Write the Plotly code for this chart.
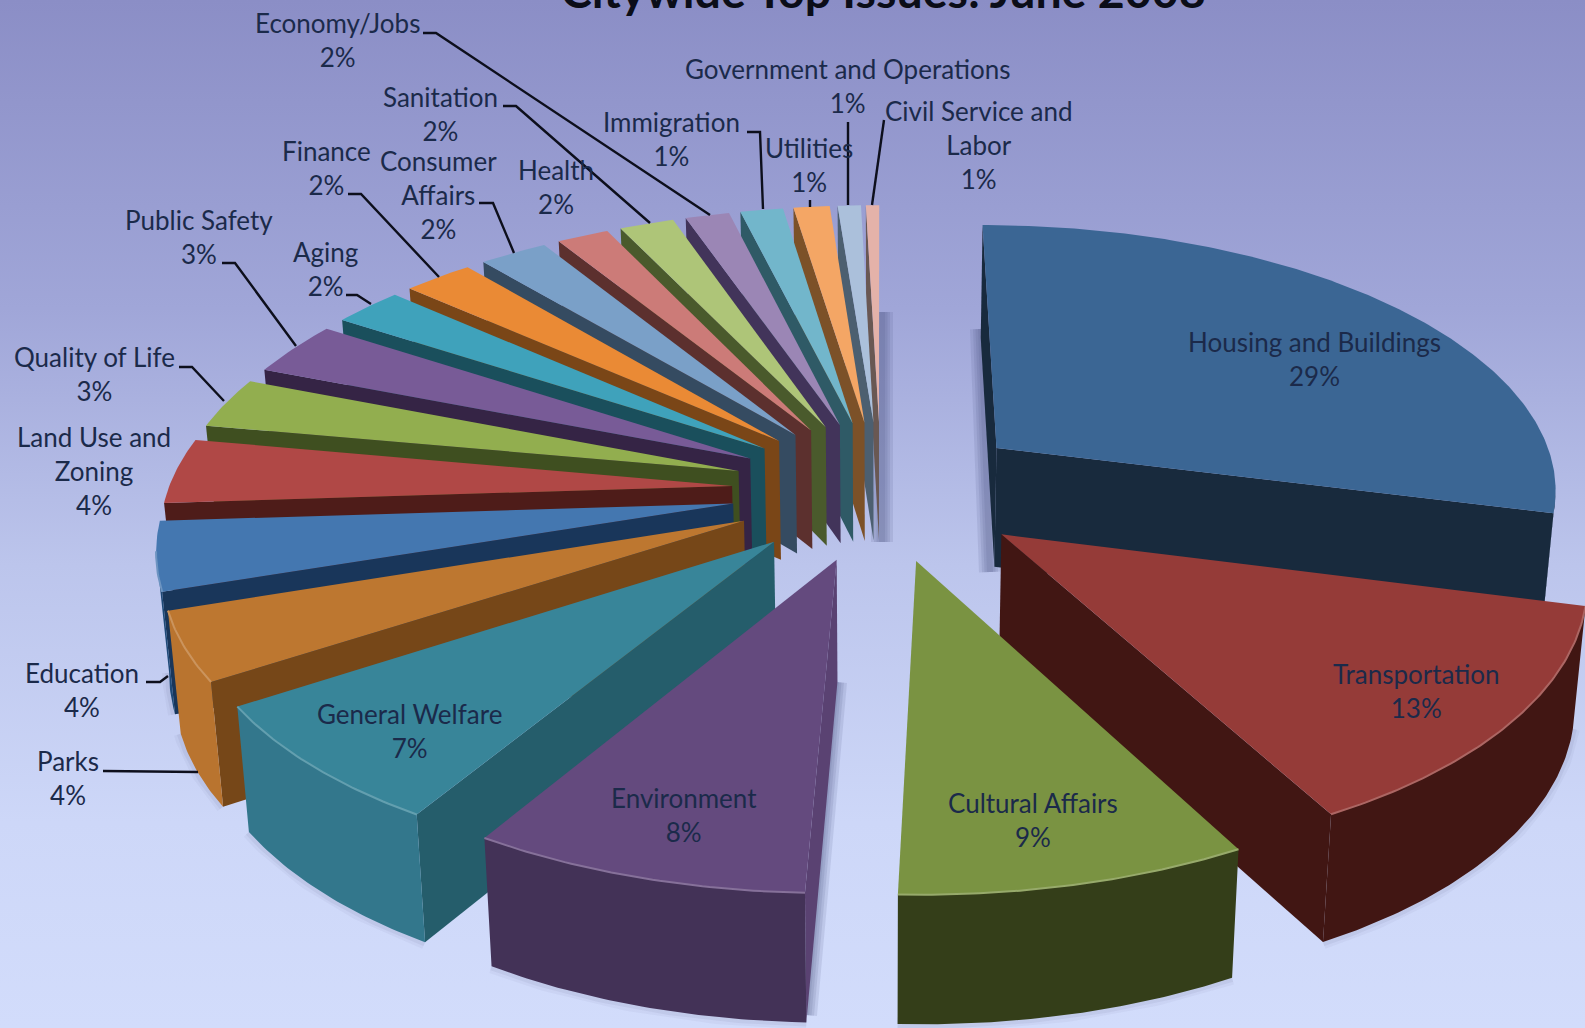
import numpy as np
import plotly.graph_objects as go

# Share of complaints per issue, clockwise from twelve o'clock
categories = ["Housing and Buildings", "Transportation", "Cultural Affairs", "Environment",
              "General Welfare", "Parks", "Education", "Land Use and Zoning", "Quality of Life",
              "Public Safety", "Aging", "Finance", "Consumer Affairs", "Health", "Sanitation",
              "Economy/Jobs", "Immigration", "Utilities", "Government and Operations",
              "Civil Service and Labor"]
values = [29, 13, 9, 8, 7, 4, 4, 4, 3, 3, 2, 2, 2, 2, 2, 2, 1, 1, 1, 1]

top_colors = ["#3b6694", "#953b38", "#7a9342", "#644a7e", "#388599", "#bd7730", "#4477b0",
              "#b04846", "#92ae4f", "#785b97", "#3fa2bb", "#ea8a35", "#7aa0c8", "#cc7b78",
              "#aec578", "#9b86b5", "#72b6cb", "#f4a665", "#abc0db", "#e4b2a9"]
side_colors = ["#182a3d", "#411613", "#323c18", "#5a4272", "#255d6b", "#764718", "#19365a",
               "#4e1c19", "#3f4f20", "#352445", "#1a4f5c", "#7a4617", "#354b61", "#5c302e",
               "#4a5a2c", "#42345a", "#2f5a66", "#7c5128", "#4c5f70", "#695853"]
rim_colors = ["#182a3d", "#411613", "#343e19", "#433257", "#33778c", "#b9742f", "#1f4a78",
              "#4e1c19", "#3f4f20", "#352445", "#1a4f5c", "#7a4617", "#354b61", "#5c302e",
              "#4a5a2c", "#42345a", "#2f5a66", "#7c5128", "#4c5f70", "#695853"]

# Label anchors in page pixels, in the order of categories
label_xy = [(1314, 359), (1416, 691), (1033, 820), (684, 815), (409, 731), (68, 778), (82, 690),
            (94, 471), (94, 374), (199, 237), (325, 269), (326, 168), (438, 195), (556, 187),
            (440, 114), (337, 40), (671, 139), (809, 165), (847, 86), (979, 145)]
label_text = {"Land Use and Zoning": "Land Use and<br>Zoning",
              "Consumer Affairs": "Consumer<br>Affairs",
              "Civil Service and Labor": "Civil Service and<br>Labor"}

leaders = [
    [(423, 33), (436, 33), (710, 215)],
    [(503, 106), (516, 106), (650, 223)],
    [(348, 194), (361, 194), (439, 277)],
    [(479, 203), (493, 203), (514, 253)],
    [(222, 263), (235, 263), (296, 346)],
    [(346, 295), (357, 295), (371, 304)],
    [(179, 367), (192, 367), (224, 401)],
    [(747, 132), (760, 132), (763, 209)],
    [(810, 200), (810, 207)],
    [(848, 122), (848, 205)],
    [(884, 120), (872, 205)],
    [(146, 682), (160, 682), (168, 676)],
    [(103, 771), (198, 772)],
]

# Soft shadows on the backdrop, as stacked translucent strokes along these edges
shadow_edges = [
    [(882, 312), (882, 542)],
    [(981, 329), (990, 572)],
    [(836, 682), (806, 1015)],
]

# View of the tilted pie: centre, scale and perspective strength, all in page pixels
CX, CY = 881.0, 490.0
SCALE_X, SCALE_Y = 564.0, 265.0
PERSPECTIVE = 0.14
EXPLODE = 0.265
THICKNESS = 120.0
FOOT_SQUEEZE = 0.982
FONT = "Lato"
INK = "#1b2a4a"

# Small hand trim of the drawn angle, in degrees, so the fan sits as the slide drew it
TRIM_AT = [0, 104, 151, 184, 212, 238, 270, 280.8, 291.6, 302.4, 309.6, 316.8, 324, 331.2,
           338.4, 345.6, 349.2, 352.8, 356.4, 360]
TRIM_BY = [0, 0, 0.6, -1.6, -1.2, -0.5, 0, -0.5, -0.3, 0.6, 1.8, 3, 4, 3.05,
           2.4, 0.5, 2.05, 2.8, 2, 0]


def drawn_angle(deg):
    return np.radians(deg + np.interp(deg, TRIM_AT, TRIM_BY))


def project(px, py):
    w = 1 + PERSPECTIVE * py
    return CX + SCALE_X * px / w, CY - SCALE_Y * py / w, w


def foot(p):
    """Where the vertical edge hanging from top-face point p lands."""
    return CX + (p[0] - CX) * FOOT_SQUEEZE, p[1] + THICKNESS / p[2] ** 0.4


def lighten(color, amount=0.22):
    rgb = [int(color[k:k + 2], 16) for k in (1, 3, 5)]
    return "#" + "".join(f"{int(c + (255 - c) * amount):02x}" for c in rgb)


def poly(xs, ys, color):
    return go.Scatter(x=xs, y=ys, mode="lines", fill="toself", fillcolor=color,
                      line=dict(width=0, color=color), hoverinfo="skip", showlegend=False)


def path_line(xs, ys, color, width):
    return go.Scatter(x=xs, y=ys, mode="lines", line=dict(color=color, width=width),
                      hoverinfo="skip", showlegend=False)


fig = go.Figure()

# Page backdrop
fig.add_trace(go.Scatter(
    x=[0, 1585, 1585, 0, 0], y=[0, 0, 1028, 1028, 0], mode="lines", fill="toself",
    line=dict(width=0), hoverinfo="skip", showlegend=False,
    fillgradient=dict(type="vertical", colorscale=[[0, "#d2dcfb"], [0.2, "#cdd7f8"],
                                                   [0.45, "#bcc5ec"], [0.7, "#a0a6d8"],
                                                   [1, "#8b8ec6"]])))

for edge in shadow_edges:
    for width in (22, 16, 11, 6):
        fig.add_trace(path_line([p[0] for p in edge], [p[1] for p in edge],
                                "rgba(70,74,120,0.13)", width))

total = sum(values)
edges = np.cumsum([0] + values) / total * 360.0
slices = []
for i in range(len(values)):
    t0, t1 = drawn_angle(edges[i]), drawn_angle(edges[i + 1])
    mid = (t0 + t1) / 2
    ox, oy = EXPLODE * np.sin(mid), EXPLODE * np.cos(mid)
    thetas = np.linspace(t0, t1, max(6, int(values[i] * 6)))
    rim = [project(ox + np.sin(t), oy + np.cos(t)) for t in thetas]
    tip = project(ox, oy)
    slices.append((oy + 0.5 * np.cos(mid), i, tip, rim))

# Paint from the back of the pie towards the viewer
for _, i, tip, rim in sorted(slices, key=lambda s: -s[0]):
    # outer rim, keeping only the stretch that faces the viewer
    run = [p for j, p in enumerate(rim)
           if (j + 1 < len(rim) and rim[j + 1][0] < p[0]) or (j > 0 and p[0] < rim[j - 1][0])]
    feet = [foot(p) for p in run]
    # a soft contact shadow under the slice
    if len(run) > 1 and i < 8:
        for width, alpha in ((14, 0.05), (8, 0.07)):
            fig.add_trace(path_line([p[0] for p in feet], [p[1] for p in feet],
                                    f"rgba(70,72,120,{alpha})", width))
    # radial faces whose top edge runs right-to-left look at the viewer
    for a, b in ((tip, rim[0]), (rim[-1], tip)):
        if b[0] < a[0]:
            fa, fb = foot(a), foot(b)
            fig.add_trace(poly([a[0], b[0], fb[0], fa[0], a[0]],
                               [a[1], b[1], fb[1], fa[1], a[1]], side_colors[i]))
    if len(run) > 1:
        xs = [p[0] for p in run] + [p[0] for p in feet[::-1]] + [run[0][0]]
        ys = [p[1] for p in run] + [p[1] for p in feet[::-1]] + [run[0][1]]
        fig.add_trace(poly(xs, ys, rim_colors[i]))
    # top face
    xs = [tip[0]] + [p[0] for p in rim] + [tip[0]]
    ys = [tip[1]] + [p[1] for p in rim] + [tip[1]]
    fig.add_trace(poly(xs, ys, top_colors[i]))
    # bevel along the front edge of the larger slices
    if len(run) > 1 and 1 <= i <= 6:
        fig.add_trace(path_line([p[0] for p in run], [p[1] for p in run],
                                lighten(top_colors[i]), 2))

for path in leaders:
    fig.add_trace(path_line([p[0] for p in path], [p[1] for p in path], "#0d0f1c", 2.4))

for name, value, (x, y) in zip(categories, values, label_xy):
    fig.add_annotation(x=x, y=y, text=f"{label_text.get(name, name)}<br>{value}%",
                       showarrow=False, xanchor="center", yanchor="middle",
                       font=dict(family=FONT, size=26, color=INK))

fig.add_annotation(x=883, y=2, yshift=12, text="<b>Citywide Top Issues: June 2008</b>",
                   showarrow=False, xanchor="center", yanchor="middle",
                   font=dict(family=FONT, size=46.5, color="#0b0d18"))

fig.update_layout(width=1585, height=1028, margin=dict(l=0, r=0, t=0, b=0),
                  paper_bgcolor="#bcc5ec", plot_bgcolor="rgba(0,0,0,0)", showlegend=False,
                  xaxis=dict(range=[0, 1585], visible=False, fixedrange=True),
                  yaxis=dict(range=[1028, 0], visible=False, fixedrange=True))
fig.write_html("out.html")
